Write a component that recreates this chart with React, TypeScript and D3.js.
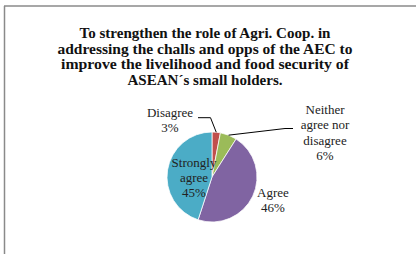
import React from "react";
import * as d3 from "d3";

const categories = ["Disagree", "Neither agree nor disagree", "Agree", "Strongly agree"];
const values = [3, 6, 46, 45];
const colors = ["#C0504D", "#9BBB59", "#8064A2", "#4BACC6"];
const labelLines = [
  ["Disagree", "3%"],
  ["Neither", "agree nor", "disagree", "6%"],
  ["Agree", "46%"],
  ["Strongly", "agree", "45%"],
];
const titleLines = [
  "To strengthen the role of Agri. Coop. in",
  "addressing the challs and opps of the AEC to",
  "improve the livelihood and food security of",
  "ASEAN\u00B4s small holders.",
];
const titleWidths = [251, 295, 288, 155];

const W = 416;
const H = 254;
const cx = 212;
const cy = 177;
const R = 45;

export default function App() {
  const pie = d3.pie<number>().sort(null).startAngle(0).endAngle(2 * Math.PI);
  const arcs = pie(values);
  const arcGen = d3.arc<d3.PieArcDatum<number>>().innerRadius(0).outerRadius(R);
  const font = "'Liberation Serif', 'Times New Roman', serif";

  const labelPos: [number, number][] = [
    [170, 117],
    [325, 114],
    [273, 197],
    [194, 166.5],
  ];
  const lineH = 15.3;

  const mid = (i: number) => {
    const a = (arcs[i].startAngle + arcs[i].endAngle) / 2;
    return [cx + R * Math.sin(a), cy - R * Math.cos(a)];
  };
  const m0 = mid(0);
  const m1 = mid(1);
  const leader0 = `M198,117.7 L210.5,117.7 L${m0[0]},${m0[1]}`;
  const leader1 = `M${m1[0]},${m1[1]} L285,128.5 L293,128.5`;

  return (
    <svg
      width={W}
      height={H}
      style={{ position: "absolute", left: 0, top: 0, background: "#fff" }}
    >
      <rect x={0} y={0} width={W} height={H} fill="#fff" />
      <line x1={4} y1={6} x2={W} y2={6} stroke="#8a8a8a" strokeWidth={1.5} />
      <line x1={4.5} y1={6} x2={4.5} y2={H} stroke="#8a8a8a" strokeWidth={1.5} />
      {titleLines.map((t, i) => (
        <text
          key={i}
          x={205}
          y={38.3 + i * 15.4}
          textAnchor="middle"
          fontFamily={font}
          fontWeight="bold"
          fontSize={14.2}
          fill="#111"
          textLength={titleWidths[i]}
          lengthAdjust="spacingAndGlyphs"
        >
          {t}
        </text>
      ))}
      <g transform={`translate(${cx},${cy})`}>
        {arcs.map((a, i) => (
          <path key={categories[i]} d={arcGen(a) || ""} fill={colors[i]} stroke="#fff" strokeWidth={0.75} />
        ))}
      </g>
      <path d={leader0} fill="none" stroke="#000" strokeWidth={1} />
      <path d={leader1} fill="none" stroke="#000" strokeWidth={1} />
      {labelLines.map((lines, i) => (
        <text
          key={i}
          textAnchor="middle"
          fontFamily={font}
          fontSize={13}
          fill="#222"
        >
          {lines.map((l, j) => (
            <tspan key={j} x={labelPos[i][0]} y={labelPos[i][1] + j * lineH}>
              {l}
            </tspan>
          ))}
        </text>
      ))}
    </svg>
  );
}
